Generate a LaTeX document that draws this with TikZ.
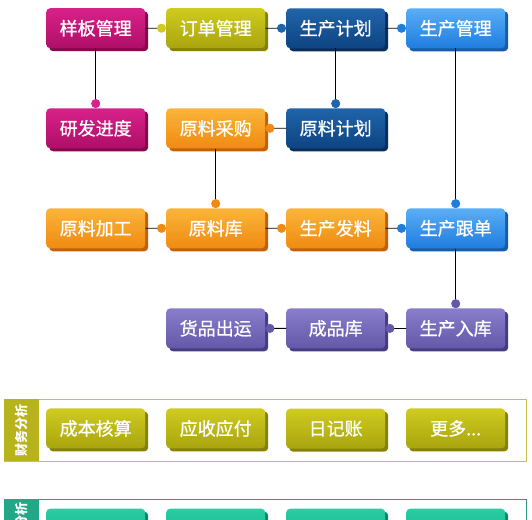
\documentclass[tikz,border=0pt]{standalone}
\usepackage{fontspec}
\newfontfamily\cjk{Noto Sans CJK SC}[FakeBold=0.8]
\newfontfamily\cjkb{Noto Sans CJK SC}
\usetikzlibrary{matrix,shadows,arrows.meta}

\definecolor{magTop}{HTML}{D8218A}
\definecolor{magBot}{HTML}{AE0F67}
\definecolor{magSh}{HTML}{840A4C}
\definecolor{olvTop}{HTML}{CFCB20}
\definecolor{olvBot}{HTML}{A9A50E}
\definecolor{olvSh}{HTML}{858109}
\definecolor{dbTop}{HTML}{2064AA}
\definecolor{dbBot}{HTML}{0E4482}
\definecolor{dbSh}{HTML}{0A2F5E}
\definecolor{lbTop}{HTML}{5AAEF6}
\definecolor{lbBot}{HTML}{1F7DDE}
\definecolor{lbSh}{HTML}{175CAA}
\definecolor{orgTop}{HTML}{FAB53A}
\definecolor{orgBot}{HTML}{F08A12}
\definecolor{orgSh}{HTML}{C4600A}
\definecolor{purTop}{HTML}{887ECB}
\definecolor{purBot}{HTML}{6458A8}
\definecolor{purSh}{HTML}{463C82}
\definecolor{tealTop}{HTML}{2ACDA4}
\definecolor{tealBot}{HTML}{14AD88}
\definecolor{tealSh}{HTML}{0E8468}
\definecolor{olvLine}{HTML}{C9C24A}
\definecolor{olvBar}{HTML}{B7B31C}
\definecolor{tealLine}{HTML}{2C9C88}
\definecolor{tealBar}{HTML}{22A887}

\tikzset{
  box/.style={rounded corners=4pt, minimum width=99pt, minimum height=40pt,
    inner sep=0pt, text=white, font=\cjk\fontsize{18}{20}\selectfont},
  magbox/.style={top color=magTop, bottom color=magBot,
    drop shadow={shadow xshift=3pt, shadow yshift=-3pt, fill=magSh, opacity=1}},
  olvbox/.style={top color=olvTop, bottom color=olvBot,
    drop shadow={shadow xshift=3pt, shadow yshift=-3pt, fill=olvSh, opacity=1}},
  dbbox/.style={top color=dbTop, bottom color=dbBot,
    drop shadow={shadow xshift=3pt, shadow yshift=-3pt, fill=dbSh, opacity=1}},
  lbbox/.style={top color=lbTop, bottom color=lbBot,
    drop shadow={shadow xshift=3pt, shadow yshift=-3pt, fill=lbSh, opacity=1}},
  orgbox/.style={top color=orgTop, bottom color=orgBot,
    drop shadow={shadow xshift=3pt, shadow yshift=-3pt, fill=orgSh, opacity=1}},
  purbox/.style={top color=purTop, bottom color=purBot,
    drop shadow={shadow xshift=3pt, shadow yshift=-3pt, fill=purSh, opacity=1}},
  tealbox/.style={top color=tealTop, bottom color=tealBot,
    drop shadow={shadow xshift=3pt, shadow yshift=-3pt, fill=tealSh, opacity=1}},
  link/.style={draw=black, line width=0.8pt},
  tomag/.style={-{Circle[length=9pt, width=9pt, color=magTop, fill=magTop]}},
  toolv/.style={-{Circle[length=9pt, width=9pt, color=olvTop, fill=olvTop]}},
  todb/.style={-{Circle[length=9pt, width=9pt, color=dbTop, fill=dbTop]}},
  tolb/.style={-{Circle[length=9pt, width=9pt, color=lbBot, fill=lbBot]}},
  toorg/.style={-{Circle[length=9pt, width=9pt, color=orgBot, fill=orgBot]}},
  topur/.style={-{Circle[length=9pt, width=9pt, color=purBot, fill=purBot]}},
  sidelbl/.style={rotate=90, inner sep=0pt, text=white,
    font=\cjkb\bfseries\fontsize{13}{14}\selectfont},
}

\begin{document}
\begin{tikzpicture}[x=1pt, y=1pt]
\useasboundingbox (0,0) rectangle (532,-519);
\fill[white] (0,0) rectangle (532,-519);
\clip (0,0) rectangle (532,-519);

% panels
\draw[olvLine, line width=0.8pt] (4,-399) rectangle (526,-461);
\fill[olvBar] (4,-399) rectangle (39,-461);
\node[sidelbl] (lblA) at (21.5,-430) {财务分析};
\draw[tealLine, line width=0.8pt] (4,-499) rectangle (526,-560);
\fill[tealBar] (4,-499) rectangle (39,-560);
\node[sidelbl, anchor=east] (lblB) at (21.5,-502) {分析};

\matrix[matrix of nodes, name=m, nodes={box}, column sep=21pt, row sep=60pt,
  inner sep=0pt, anchor=north west] at (46,-8) {
|[magbox]| 样板管理 & |[olvbox]| 订单管理 & |[dbbox]| 生产计划 & |[lbbox]| 生产管理 \\
|[magbox]| 研发进度 & |[orgbox]| 原料采购 & |[dbbox]| 原料计划 & \\
|[orgbox]| 原料加工 & |[orgbox]| 原料库 & |[orgbox]| 生产发料 & |[lbbox]| 生产跟单 \\
 & |[purbox]| 货品出运 & |[purbox]| 成品库 & |[purbox]| 生产入库 \\
|[olvbox]| 成本核算 & |[olvbox]| 应收应付 & |[olvbox]| 日记账 & |[olvbox]| 更多... \\
|[tealbox]| \strut & |[tealbox]| \strut & |[tealbox]| \strut & |[tealbox]| \strut \\
};
\path[link]
(m-1-1) edge[toolv] (m-1-2)  edge[tomag] (m-2-1)
(m-1-2) edge[todb] (m-1-3)
(m-1-3) edge[tolb] (m-1-4)  edge[todb] (m-2-3)
(m-2-3) edge[toorg] (m-2-2)
(m-2-2) edge[toorg] (m-3-2)
(m-3-1) edge[toorg] (m-3-2)
(m-3-2) edge[toorg] (m-3-3)
(m-3-3) edge[tolb] (m-3-4)
(m-1-4) edge[tolb] (m-3-4)
(m-3-4) edge[topur] (m-4-4)
(m-4-4) edge[topur] (m-4-3)
(m-4-3) edge[topur] (m-4-2)
;
\end{tikzpicture}
\end{document}
